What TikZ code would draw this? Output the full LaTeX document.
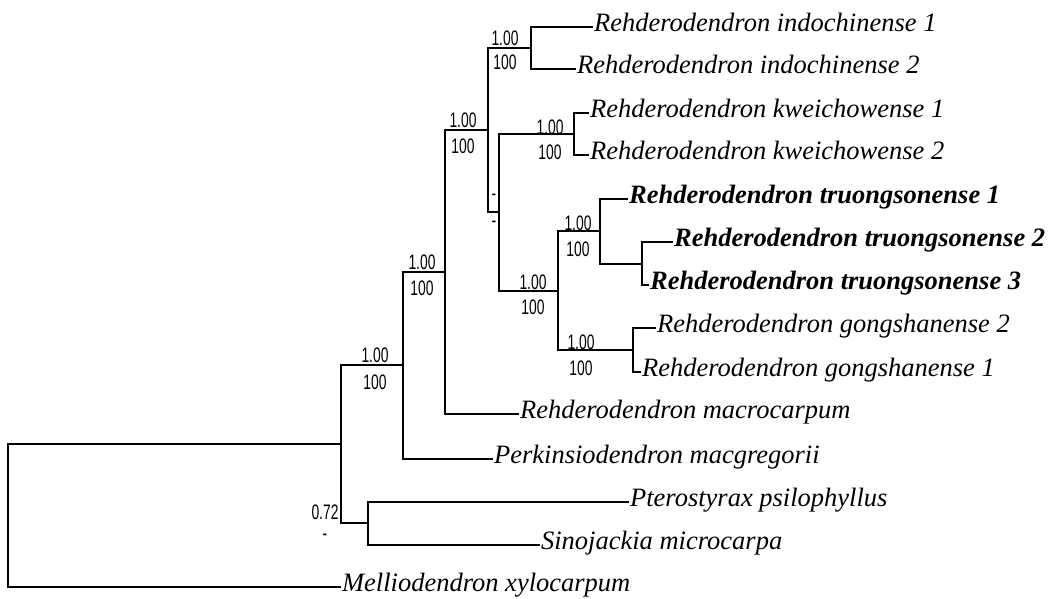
\documentclass[tikz,border=0pt]{standalone}
\usepackage{fontspec}
\setmainfont{Liberation Serif}
\newfontfamily\supfont[FakeStretch=0.66]{Liberation Sans}
\usetikzlibrary{positioning}

\begin{document}
\begin{tikzpicture}[x=1pt,y=-1pt,line width=2.2pt,line cap=rect]
\tikzstyle{every node}+=[inner sep=0pt]
\tikzstyle{taxon}=[anchor=west,inner xsep=1pt,text height=14pt,text depth=6pt,font=\fontsize{26.5}{26.5}\selectfont\itshape]
\tikzstyle{newtaxon}=[taxon,font=\fontsize{26.5}{26.5}\selectfont\bfseries\itshape]
\tikzstyle{support}=[font=\fontsize{21}{21}\selectfont\supfont]
\useasboundingbox[fill=white] (0,0) rectangle (1055,598);
\coordinate (root) at (8,444);
\coordinate (nIn) at (341,444);
\coordinate (nPS) at (368,523);
\coordinate (nRP) at (403,365);
\coordinate (nReh) at (445,272);
\coordinate (nAKTG) at (488,130);
\coordinate (nInd) at (531,48);
\coordinate (nKTG) at (499,212);
\coordinate (nKwe) at (574,134);
\coordinate (nTG) at (558,291);
\coordinate (nTru) at (600,231);
\coordinate (nTru23) at (642,264);
\coordinate (nGon) at (633,350);
\node[taxon] (ind1) at (592,27) {Rehderodendron indochinense 1};
\node[taxon] (ind2) at (575,69) {Rehderodendron indochinense 2};
\node[taxon] (kwe1) at (588,113) {Rehderodendron kweichowense 1};
\node[taxon] (kwe2) at (588,155) {Rehderodendron kweichowense 2};
\node[newtaxon] (tru1) at (627,199) {Rehderodendron truongsonense 1};
\node[newtaxon] (tru2) at (672,242) {Rehderodendron truongsonense 2};
\node[newtaxon] (tru3) at (648,285) {Rehderodendron truongsonense 3};
\node[taxon] (gon2) at (655,328) {Rehderodendron gongshanense 2};
\node[taxon] (gon1) at (640,372) {Rehderodendron gongshanense 1};
\node[taxon] (mac) at (518,414) {Rehderodendron macrocarpum};
\node[taxon] (per) at (492,459) {Perkinsiodendron macgregorii};
\node[taxon] (pte) at (628,502) {Pterostyrax psilophyllus};
\node[taxon] (sin) at (539,545) {Sinojackia microcarpa};
\node[taxon] (mel) at (340,587) {Melliodendron xylocarpum};
\draw (root) |- (nIn);
\draw (root) |- (mel);
\draw (nIn) |- (nRP);
\draw (nIn) |- (nPS);
\draw (nPS) |- (pte);
\draw (nPS) |- (sin);
\draw (nRP) |- (nReh);
\draw (nRP) |- (per);
\draw (nReh) |- (nAKTG);
\draw (nReh) |- (mac);
\draw (nAKTG) |- (nInd);
\draw (nAKTG) |- (nKTG);
\draw (nInd) |- (ind1);
\draw (nInd) |- (ind2);
\draw (nKTG) |- (nKwe);
\draw (nKTG) |- (nTG);
\draw (nKwe) |- (kwe1);
\draw (nKwe) |- (kwe2);
\draw (nTG) |- (nTru);
\draw (nTG) |- (nGon);
\draw (nTru) |- (tru1);
\draw (nTru) |- (nTru23);
\draw (nTru23) |- (tru2);
\draw (nTru23) |- (tru3);
\draw (nGon) |- (gon2);
\draw (nGon) |- (gon1);
\node[support] (ppAKTG) at (463,120) {1.00};
\node[support] (bsAKTG) at (463,146) {100};
\node[support] (ppInd) at (505,38) {1.00};
\node[support] (bsInd) at (505,62) {100};
\node[support] (ppKwe) at (550,127) {1.00};
\node[support] (bsKwe) at (550,152) {100};
\node[support] (ppKTG) at (494,197) {-};
\node[support] (bsKTG) at (494,224) {-};
\node[support] (ppTG) at (533,282) {1.00};
\node[support] (bsTG) at (533,307) {100};
\node[support] (ppTru) at (578,223) {1.00};
\node[support] (bsTru) at (578,249) {100};
\node[support] (ppGon) at (581,342) {1.00};
\node[support] (bsGon) at (581,368) {100};
\node[support] (ppReh) at (422,262) {1.00};
\node[support] (bsReh) at (422,288) {100};
\node[support] (ppRP) at (375,355) {1.00};
\node[support] (bsRP) at (375,382) {100};
\node[support] (ppPS) at (325,512) {0.72};
\node[support] (bsPS) at (325,537) {-};
\end{tikzpicture}
\end{document}
